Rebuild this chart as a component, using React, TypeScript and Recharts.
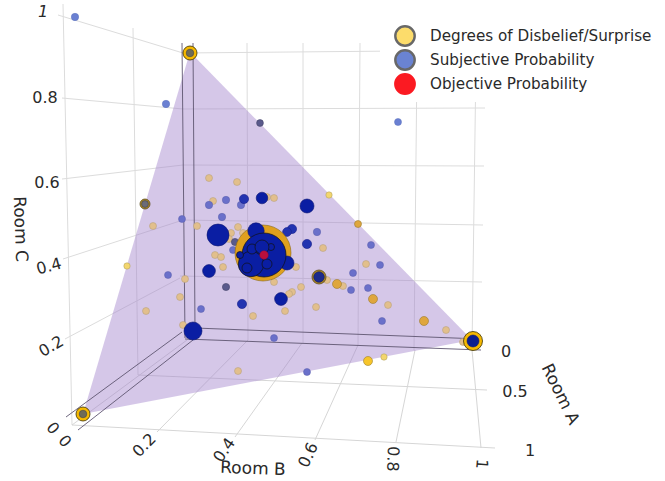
import React from "react";
import { ScatterChart, Scatter, XAxis, YAxis, Legend } from "recharts";

type P = number[];

const wallGrid: P[] = [
  [58, 15, 183, 53], [183, 53, 400, 51],
  [62, 98, 183, 109], [183, 109, 485, 108],
  [62, 179, 183, 165], [183, 165, 484, 166],
  [63, 259, 183, 220], [183, 220, 483, 225],
  [65, 339, 180, 278], [180, 276, 482, 282],
  [63, 4, 72, 425], [133, 28, 138, 375],
  [247, 43, 248, 340], [303, 43, 303, 343], [360, 43, 358, 345],
  [417, 60, 414, 350], [476, 60, 472, 350],
];
const floorGrid: P[] = [
  [72, 425, 495, 448], [138, 375, 487, 390], [72, 425, 187, 340],
  [157, 432, 248, 340], [235, 437, 302, 343], [315, 440, 358, 345],
  [396, 442, 415, 350], [481, 448, 472, 350],
];
const darkLines: P[] = [
  [66, 417, 182, 332], [78, 430, 193, 340],
  [182, 43, 185, 338], [193, 43, 195, 330],
  [195, 328, 480, 339], [185, 339, 481, 350],
];
const planeCorners: P[] = [[190, 52], [83, 414], [472, 340]];

const tanDots: P[] = [
  [209, 178, 3.5], [237, 182, 3.5], [213, 201, 3.5], [274, 198, 3.5], [267, 197, 3.5], [153, 226, 3.5],
  [197, 226, 3.5], [238, 227, 3.5], [243, 233, 3.5], [231, 233, 3.5], [229, 239, 3.5], [215, 255, 3.5],
  [221, 257, 3.5], [223, 267, 3.5], [185, 279, 3.5], [180, 297, 3.5], [146, 311, 3.5], [183, 325, 3.5],
  [253, 316, 3.5], [285, 311, 3.5], [274, 282, 3.5], [296, 267, 3.5], [301, 287, 3.5], [292, 292, 3.5],
  [289, 294, 3.5], [316, 307, 3.5], [238, 371, 3.5], [366, 264, 3.5], [343, 286, 3.5], [388, 305, 3.5],
  [446, 330, 3.5], [463, 342, 3.5], [323, 248, 3.5], [327, 280, 3.5],
];
const goldDots: P[] = [
  [337, 284, 4.5], [373, 299, 4.5], [424, 321, 4.5], [358, 224, 3.5],
];
const paleYellowDots: P[] = [[127, 266, 3.2], [329, 195, 3.2], [384, 357, 3.2]];
const brightDots: P[] = [[368, 361, 4.5]];
const outsideBlueDots: P[] = [[75, 17, 3.7], [166, 104, 3.7], [398, 122, 3.5]];
const paleBlueDots: P[] = [
  [209, 205, 3.7], [226, 200, 3.7], [241, 205, 3.7],
  [222, 217, 3.7], [182, 219, 3.5], [317, 232, 3.7], [233, 250, 3.5], [168, 275, 3.5], [201, 309, 3.5],
  [274, 338, 3.5], [307, 372, 3.5], [371, 245, 3.5], [380, 265, 3.5], [353, 273, 3.5], [351, 290, 3.5],
  [368, 288, 3.5], [382, 321, 3.5],
];
const duskyDots: P[] = [[260, 123, 3.4], [226, 287, 3.6], [235, 242, 3.6]];
const midBlueDots: P[] = [[244, 199, 4.6], [292, 229, 4.6], [287, 232, 4.4], [307, 244, 4.6], [242, 304, 4.6]];
const navyDots: P[] = [
  [218, 235, 11], [307, 206, 7], [262, 198, 5.8], [193, 331, 9], [209, 271, 6.4], [281, 299, 6.4],
  [256, 231, 8.2], [287, 263, 7],
];
const centreGold: P[] = [[263, 253, 28]];
const centreNavy: P[] = [
  [264, 255, 22], [251, 264, 12.7], [267, 264, 5], [252, 249, 5], [271, 247, 3.5], [262, 247, 7],
  [247, 268, 5], [240, 255, 3.5],
];
const centreRed: P[] = [[264, 255, 4.3]];
const cornerRings: P[] = [[190, 53, 7], [83, 414, 7], [473, 341, 9.5]];
const cornerGrey: P[] = [[190, 53, 3.8], [83, 414, 3.8]];
const cornerNavy: P[] = [[473, 341, 6]];
const smallRings: P[] = [[145, 204, 5], [319, 277, 7]];
const smallGrey: P[] = [[145, 204, 3.4]];
const smallNavy: P[] = [[319, 277, 5.3]];

const tickLabels: [string, number, number, number, number][] = [
  ["0.8", 45, 97, 0, 16], ["0.6", 47, 182, 0, 16], ["0.4", 49, 266, -15, 16], ["0.2", 51, 346, -30, 16],
  ["0", 53, 428, 50, 16], ["0", 65, 441, 50, 16],
  ["0.2", 144, 445, -45, 16], ["0.4", 224, 450, -55, 16], ["0.6", 308, 455, -65, 16],
  ["0.8", 393, 459, 92, 16], ["1", 482, 464, 95, 16],
  ["0", 506, 351, 0, 16], ["0.5", 515, 391, 0, 16], ["1", 530, 450, 0, 16],
];
const axisTitles: [string, number, number, number, number][] = [
  ["Room C", 21, 229, 88, 17], ["Room B", 253, 468, 2, 17], ["Room A", 561, 394, 64, 17],
];
const legendItems = [
  { name: "Degrees of Disbelief/Surprise", fill: "#fcdc6b", stroke: "#686868" },
  { name: "Subjective Probability", fill: "#6a83d2", stroke: "#686868" },
  { name: "Objective Probability", fill: "#fb1a22", stroke: "#fb1a22" },
];

const FONT = "'DejaVu Sans', sans-serif";
const toPts = (a: P[]) => a.map(([x, y, r]) => ({ x, y, r }));

const dotShape = (fill: string, stroke: string, sw = 0.6) => (p: any) => {
  const r = p.payload?.r ?? p.r;
  return <circle cx={p.cx} cy={p.cy} r={r} fill={fill} stroke={stroke} strokeWidth={sw} />;
};
const none = () => <g />;

const Dots = (data: P[], fill: string, stroke: string, sw?: number) => (
  <Scatter data={toPts(data)} shape={dotShape(fill, stroke, sw)} isAnimationActive={false} />
);
const Seg = (s: P, stroke: string, w: number, i: number) => (
  <Scatter
    key={`${stroke}-${i}`}
    data={[{ x: s[0], y: s[1] }, { x: s[2], y: s[3] }]}
    shape={none}
    line={{ stroke, strokeWidth: w }}
    isAnimationActive={false}
  />
);
const textSeries = (rows: [string, number, number, number, number][], fill: string) => (
  <Scatter
    data={rows.map(([label, x, y, rot, size]) => ({ label, x, y, rot, size }))}
    isAnimationActive={false}
    shape={(p: any) => {
      const d = p.payload ?? p;
      return (
        <text
          x={p.cx}
          y={p.cy}
          textAnchor="middle"
          dominantBaseline="central"
          fontFamily={FONT}
          fontSize={d.size}
          fill={fill}
          transform={`rotate(${d.rot} ${p.cx} ${p.cy})`}
        >
          {d.label}
        </text>
      );
    }}
  />
);

const LegendBox = () => (
  <div style={{ background: "#fff", width: 285, height: 82, boxSizing: "border-box", paddingTop: 4 }}>
    {legendItems.map((it) => (
      <div key={it.name} style={{ display: "flex", alignItems: "center", height: 24, fontFamily: FONT, fontSize: 15.2, color: "#2a2a2a" }}>
        <svg width={50} height={24} style={{ flex: "none" }}>
          <circle cx={25} cy={12} r={9.7} fill={it.fill} stroke={it.stroke} strokeWidth={2.4} />
        </svg>
        <span style={{ whiteSpace: "nowrap" }}>{it.name}</span>
      </div>
    ))}
  </div>
);

export default function App() {
  return (
    <div style={{ position: "absolute", left: 0, top: 0, width: 665, height: 481 }}>
      <ScatterChart width={665} height={481} margin={{ top: 0, right: 0, bottom: 0, left: 0 }}>
        <XAxis type="number" dataKey="x" domain={[0, 665]} hide />
        <YAxis type="number" dataKey="y" domain={[0, 481]} reversed hide />
        {wallGrid.map((s, i) => Seg(s, "#dcdcdc", 1, i))}
        {floorGrid.map((s, i) => Seg(s, "#d6d6d6", 1, i + 100))}
        <Scatter
          data={toPts(planeCorners)}
          shape={none}
          isAnimationActive={false}
          line={(p: any) => (
            <polygon points={p.points.map((q: any) => `${q.x},${q.y}`).join(" ")} fill="#a283cc" fillOpacity={0.45} stroke="none" />
          )}
        />
        {darkLines.map((s, i) => Seg(s, "#5f5670", 0.9, i + 200))}
        {Dots(tanDots, "#e2bf8c", "#b09a78", 0.5)}
        {Dots(outsideBlueDots, "#6a80d2", "#5a70bc", 0.5)}
        {Dots(paleBlueDots, "#6a70ca", "#5a5eaa", 0.5)}
        {Dots(duskyDots, "#5a5a8c", "#44446a")}
        {Dots(goldDots, "#dfa63d", "#9a7a30")}
        {Dots(paleYellowDots, "#f3d66e", "#a89a60", 0.5)}
        {Dots(brightDots, "#f7c52a", "#9a8030")}
        {Dots(midBlueDots, "#2233b0", "#18208a")}
        {Dots(smallRings, "#b08a1f", "#5a4a20", 0.8)}
        {Dots(smallGrey, "#6b6b78", "#444")}
        {Dots(smallNavy, "#1c2a8c", "#1a1a55")}
        {Dots(centreGold, "#dfa01e", "#8a6a18")}
        {Dots(navyDots, "#0a1ea3", "#0a1470")}
        {Dots(centreNavy, "#0a1ea3", "#111", 0.7)}
        {Dots(centreRed, "#b80f3c", "#8c0c30", 0.4)}
        {Dots(cornerRings, "#f5b800", "#3a3000", 0.8)}
        {Dots(cornerGrey, "#6e6b58", "#444")}
        {Dots(cornerNavy, "#0a1e90", "#0a1470")}
        {textSeries(tickLabels, "#2a2a2a")}
        {textSeries(axisTitles, "#2a2a2a")}
        <Scatter
          data={[{ label: "1", x: 43, y: 11 }]}
          isAnimationActive={false}
          shape={(p: any) => (
            <text x={p.cx} y={p.cy} textAnchor="middle" dominantBaseline="central" fontFamily={FONT} fontStyle="italic" fontSize={16} fill="#2a2a2a">
              {p.payload?.label ?? p.label}
            </text>
          )}
        />
        <Legend content={<LegendBox />} wrapperStyle={{ position: "absolute", left: 380, top: 20, width: 285, height: 0, overflow: "visible" }} />
      </ScatterChart>
    </div>
  );
}
